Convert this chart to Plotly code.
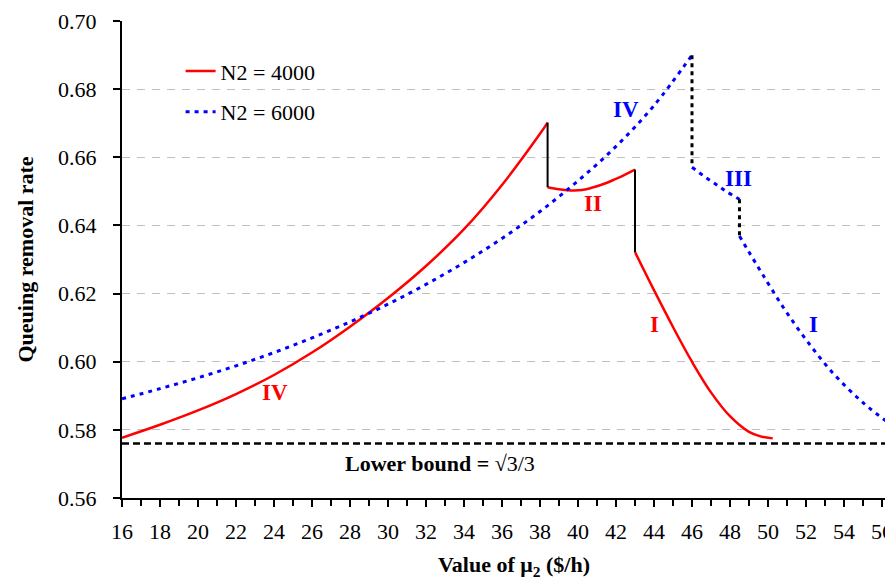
import plotly.graph_objects as go

# ---------------- data ----------------
# N2 = 4000, region IV
red_iv_x = [16, 18, 20, 22, 24, 26, 28, 30, 32, 34, 36, 38, 38.4]
red_iv_y = [0.5777, 0.5815, 0.5857, 0.5905, 0.5961, 0.6027, 0.6103, 0.6187,
            0.6281, 0.6389, 0.6519, 0.6669, 0.6702]
# N2 = 4000, region II
red_ii_x = [38.4, 39.0, 39.6, 40.2, 41.0, 41.8, 42.5, 43.0]
red_ii_y = [0.6512, 0.6506, 0.6503, 0.6504, 0.6515, 0.6532, 0.6550, 0.6564]
# N2 = 4000, region I
red_i_x = [43.0, 44.0, 45.0, 46.0, 47.0, 48.0, 49.0, 49.6, 50.25]
red_i_y = [0.6322, 0.6210, 0.6102, 0.6000, 0.5910, 0.5840, 0.5794, 0.5781, 0.5775]

# N2 = 6000, region IV
blue_iv_x = [16, 18, 20, 22, 24, 26, 28, 30, 32, 34, 36, 38, 40, 42, 44, 46.0]
blue_iv_y = [0.5891, 0.5921, 0.5953, 0.5988, 0.6027, 0.6070, 0.6117, 0.6169,
             0.6227, 0.6291, 0.6362, 0.6441, 0.6531, 0.6632, 0.6752, 0.6900]
# N2 = 6000, region III
blue_iii_x = [46.0, 46.6, 47.2, 47.8, 48.5]
blue_iii_y = [0.6571, 0.6546, 0.6523, 0.6500, 0.6477]
# N2 = 6000, region I
blue_i_x = [48.5, 49.0, 49.7, 50.8, 52.0, 53.4, 55.0, 56.6]
blue_i_y = [0.6369, 0.6322, 0.6258, 0.6160, 0.6065, 0.5968, 0.5880, 0.5810]

lower_bound = 0.576  # sqrt(3)/3 as drawn

x_ticks = list(range(16, 57, 2))
y_ticks = [0.56, 0.58, 0.60, 0.62, 0.64, 0.66, 0.68, 0.70]

series_names = ["N2 = 4000", "N2 = 6000"]

# region labels: (text, x, y, colour)
region_labels = [
    ("IV", 24.07, 0.5909, "red"),
    ("II", 40.79, 0.6464, "red"),
    ("I", 44.03, 0.6110, "red"),
    ("IV", 42.54, 0.6740, "blue"),
    ("III", 48.45, 0.6538, "blue"),
    ("I", 52.37, 0.6110, "blue"),
]

FONT = "Liberation Serif"

fig = go.Figure()

red_x = red_iv_x + [None] + red_ii_x + [None] + red_i_x
red_y = red_iv_y + [None] + red_ii_y + [None] + red_i_y
fig.add_trace(go.Scatter(
    x=red_x, y=red_y, mode="lines", name=series_names[0],
    line=dict(color="#ff0000", width=2.5, shape="spline", smoothing=1.0),
    connectgaps=False, legendgroup="a"))

blue_x = blue_iv_x + [None] + blue_iii_x + [None] + blue_i_x
blue_y = blue_iv_y + [None] + blue_iii_y + [None] + blue_i_y
fig.add_trace(go.Scatter(
    x=blue_x, y=blue_y, mode="lines", name=series_names[1],
    line=dict(color="#0000ff", width=3, dash="4px,5px", shape="spline", smoothing=1.0),
    connectgaps=False, legendgroup="b"))

# vertical jumps
fig.add_trace(go.Scatter(
    x=[red_iv_x[-1], red_ii_x[0], None, red_ii_x[-1], red_i_x[0]],
    y=[red_iv_y[-1], red_ii_y[0], None, red_ii_y[-1], red_i_y[0]],
    mode="lines", line=dict(color="black", width=2), showlegend=False))
fig.add_trace(go.Scatter(
    x=[blue_iv_x[-1], blue_iii_x[0], None, blue_iii_x[-1], blue_i_x[0]],
    y=[blue_iv_y[-1], blue_iii_y[0], None, blue_iii_y[-1], blue_i_y[0]],
    mode="lines", line=dict(color="black", width=3, dash="4px,4px"), showlegend=False))

# lower bound
fig.add_hline(y=lower_bound, line=dict(color="black", width=2.5, dash="7px,4px"))

for txt, lx, ly, col in region_labels:
    fig.add_annotation(x=lx, y=ly, text=f"<b>{txt}</b>", showarrow=False,
                       xanchor="center", yanchor="middle",
                       font=dict(family=FONT, size=23, color=col))

fig.add_annotation(x=27.65, y=0.5701, xanchor="left", yanchor="middle",
                   text="<b>Lower bound =</b> √3/3",
                   showarrow=False, font=dict(family=FONT, size=22, color="black"))

# axis titles
fig.add_annotation(xref="paper", yref="paper", x=0.508, y=-0.143,
                   xanchor="center", yanchor="middle",
                   text="<b>Value of μ<sub>2</sub> ($/h)</b>", showarrow=False,
                   font=dict(family=FONT, size=22, color="black"))
fig.add_annotation(xref="paper", yref="paper", x=-0.1258, y=0.5, textangle=-90,
                   xanchor="center", yanchor="middle",
                   text="<b>Queuing removal rate</b>", showarrow=False,
                   font=dict(family=FONT, size=22, color="black"))

# the page body adds an 8px offset, so the figure is sized to fit the window
fig.update_layout(
    width=885, height=577,
    margin=dict(l=114, r=0, t=12.5, b=87.4, autoexpand=False),
    plot_bgcolor="white", paper_bgcolor="white",
    font=dict(family=FONT, size=22, color="black"),
    showlegend=True,
    legend=dict(x=0.076, y=0.9386, xanchor="left", yanchor="top",
                bgcolor="rgba(0,0,0,0)", tracegroupgap=9,
                font=dict(family=FONT, size=22, color="black")),
)
fig.update_xaxes(
    range=[16, 56.58], tickvals=x_ticks, ticktext=[str(v) for v in x_ticks],
    showline=True, linecolor="black", linewidth=2, automargin=False,
    ticks="outside", ticklen=7, tickwidth=1.5, tickcolor="black",
    tickfont=dict(family=FONT, size=22, color="black"),
    minor=dict(dtick=1, ticks="outside", ticklen=6, tickwidth=1.5, tickcolor="black", showgrid=False),
    showgrid=False, zeroline=False, ticklabelstandoff=6,
)
fig.update_yaxes(
    range=[0.56, 0.70002], tickvals=y_ticks, ticktext=[f"{v:.2f}" for v in y_ticks],
    showline=True, linecolor="black", linewidth=2, automargin=False,
    ticks="outside", ticklen=7, tickwidth=1.5, tickcolor="black",
    tickfont=dict(family=FONT, size=22, color="black"),
    showgrid=True, gridcolor="#c0c0c0", gridwidth=1, griddash="8px,7px",
    zeroline=False, ticklabelstandoff=12,
)

fig.write_html("out.html")
